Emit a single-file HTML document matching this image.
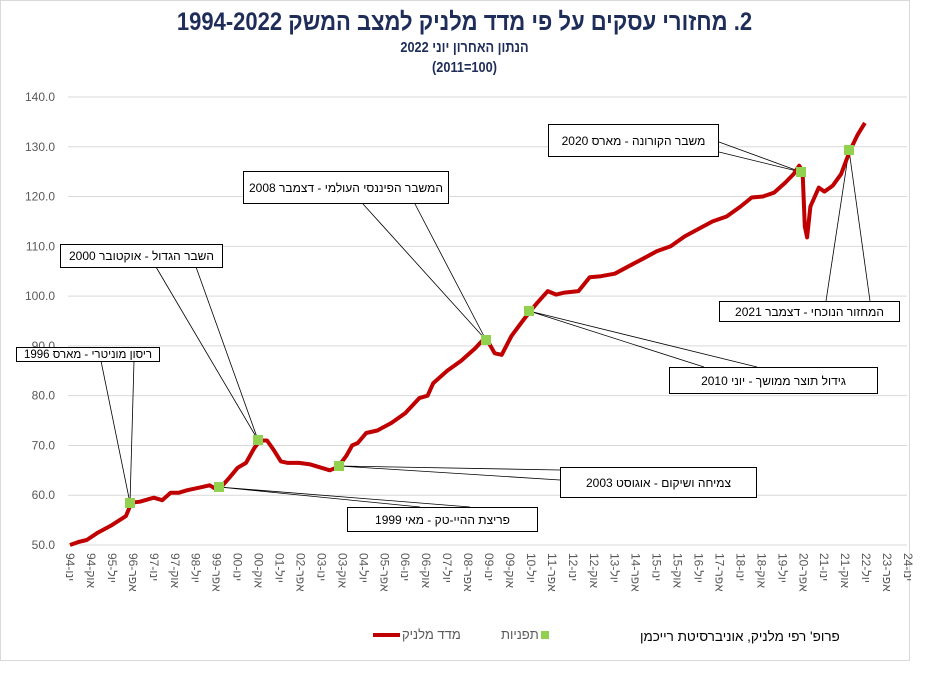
<!DOCTYPE html>
<html><head><meta charset="utf-8">
<style>
body{margin:0;background:#fff;width:929px;height:681px;overflow:hidden;position:relative;font-family:"Liberation Sans",Arial,sans-serif}
.box{position:absolute;border:1px solid #000;background:#fff;font-size:12px;color:#000;direction:rtl;display:flex;align-items:center;justify-content:center;padding:0;box-sizing:border-box;white-space:nowrap}
.t{position:absolute;left:0;width:929px;text-align:center;color:#1f2d5a;font-weight:bold;direction:rtl}
</style></head><body>
<svg width="929" height="681" style="position:absolute;left:0;top:0">
<rect x="0.5" y="0.5" width="909" height="660" fill="none" stroke="#d9d9d9"/>
<g id="grid" stroke="#d9d9d9" stroke-width="1"></g>
<g id="ylab" font-size="12" fill="#595959" text-anchor="end"></g>
<g id="xlab" font-size="12" fill="#595959"></g>
<g stroke="#000" stroke-width="0.8" fill="none">
<polyline points="101,361 130,503 134,361"/>
<polyline points="156,267 258,440 196,267"/>
<polyline points="363,204 486,340 415,204"/>
<polyline points="719,142 801,172 719,152"/>
<polyline points="826,301 849,150 870,301"/>
<polyline points="704,367 529,311 757,367"/>
<polyline points="560,470 339,466 560,480"/>
<polyline points="420,507 219,487 470,507"/>
</g>
<path id="ser" fill="none" stroke="#c00000" stroke-width="4" stroke-linejoin="round"/>
<g id="mk" fill="#92d050"></g>
<line x1="373" y1="635" x2="400" y2="635" stroke="#c00000" stroke-width="4"/>
<rect x="541" y="631" width="8" height="8" fill="#92d050"/>
</svg>
<div class="t" style="top:8px;font-size:25px;transform:scaleX(0.88)">2. מחזורי עסקים על פי מדד מלניק למצב המשק 1994-2022</div>
<div class="t" style="top:39px;font-size:15px;transform:scaleX(0.85)">הנתון האחרון יוני 2022</div>
<div class="t" style="top:59px;font-size:15px;transform:scaleX(0.85)">(100=2011)</div>
<div class="box" style="left:16px;top:347px;width:144px;height:15px;font-size:11.5px">ריסון מוניטרי - מארס 1996</div>
<div class="box" style="left:60px;top:244px;width:163px;height:24px">השבר הגדול - אוקטובר 2000</div>
<div class="box" style="left:243px;top:171px;width:206px;height:33px">המשבר הפיננסי העולמי - דצמבר 2008</div>
<div class="box" style="left:548px;top:124px;width:171px;height:33px">משבר הקורונה - מארס 2020</div>
<div class="box" style="left:719px;top:301px;width:181px;height:21px">המחזור הנוכחי - דצמבר 2021</div>
<div class="box" style="left:669px;top:367px;width:209px;height:27px">גידול תוצר ממושך - יוני 2010</div>
<div class="box" style="left:560px;top:467px;width:197px;height:31px">צמיחה ושיקום - אוגוסט 2003</div>
<div class="box" style="left:347px;top:507px;width:191px;height:25px">פריצת ההיי-טק - מאי 1999</div>
<div style="position:absolute;left:402px;top:627px;font-size:13px;color:#595959;direction:rtl">מדד מלניק</div>
<div style="position:absolute;left:501px;top:627px;font-size:13px;color:#595959;direction:rtl">תפניות</div>
<div style="position:absolute;left:640px;top:629px;font-size:13.5px;color:#000;direction:rtl">פרופ' רפי מלניק, אוניברסיטת רייכמן</div>
<script>
var NS="http://www.w3.org/2000/svg";
function el(p,t,a,txt){var e=document.createElementNS(NS,t);for(var k in a)e.setAttribute(k,a[k]);if(txt!==undefined)e.textContent=txt;document.getElementById(p).appendChild(e);return e;}
function Y(v){return 545-(v-50)*4.978;}
function X(t){return 70+(t-1994)*27.94;}
for(var v=50;v<=140;v+=10){var y=Y(v);el("grid","line",{x1:68,x2:907,y1:y,y2:y});el("ylab","text",{x:55,y:y+4},v.toFixed(1));}
var mon=["ינו","אוק","יול","אפר"];
for(var i=0;i<=40;i++){var m=i*9,yr=94+Math.floor(m/12);var x=70+i*20.95;var s=String(yr%100).padStart(2,"0")+"-"+mon[i%4];
el("xlab","text",{x:0,y:0,transform:"translate("+(x-4)+",553) rotate(90)"},s);}
var d=[[1994,50],[1994.3,50.6],[1994.6,51],[1995,52.5],[1995.5,54],[1996,55.8],[1996.2,58.5],[1996.5,58.7],[1997,59.5],[1997.3,59],[1997.6,60.5],[1997.9,60.5],[1998.2,61],[1998.6,61.5],[1999,62],[1999.2,61.3],[1999.4,61.6],[1999.7,63.5],[2000,65.5],[2000.3,66.5],[2000.6,69.5],[2000.8,71],[2001.05,71],[2001.3,69],[2001.55,66.8],[2001.8,66.5],[2002.2,66.5],[2002.6,66.2],[2003,65.5],[2003.3,65],[2003.6,65.7],[2003.9,68],[2004.1,70],[2004.3,70.5],[2004.6,72.5],[2005,73],[2005.5,74.5],[2006,76.5],[2006.5,79.5],[2006.8,80],[2007,82.5],[2007.5,85],[2008,87],[2008.5,89.5],[2008.75,91],[2008.95,91],[2009.2,88.5],[2009.45,88.2],[2009.8,92],[2010.2,95],[2010.45,96.8],[2010.7,98.5],[2011.1,101],[2011.4,100.3],[2011.7,100.7],[2012.2,101],[2012.6,103.8],[2013,104],[2013.5,104.5],[2014,106],[2014.5,107.5],[2015,109],[2015.5,110],[2016,112],[2016.5,113.5],[2017,115],[2017.5,116],[2018,118],[2018.4,119.8],[2018.8,120],[2019.2,120.8],[2019.6,122.8],[2019.9,124.5],[2020.1,126.2],[2020.22,125],[2020.3,114],[2020.38,111.8],[2020.5,118],[2020.8,121.8],[2021,121],[2021.3,122.2],[2021.6,124.5],[2021.92,129.3],[2022.2,132.5],[2022.45,134.8]];
document.getElementById("ser").setAttribute("d","M"+d.map(function(p){return X(p[0]).toFixed(1)+","+Y(p[1]).toFixed(1);}).join(" L"));
[[130,503],[219,487],[258,440],[339,466],[486,340],[529,311],[801,172],[849,150]].forEach(function(p){el("mk","rect",{x:p[0]-5,y:p[1]-5,width:10,height:10});});
</script>
</body></html>
